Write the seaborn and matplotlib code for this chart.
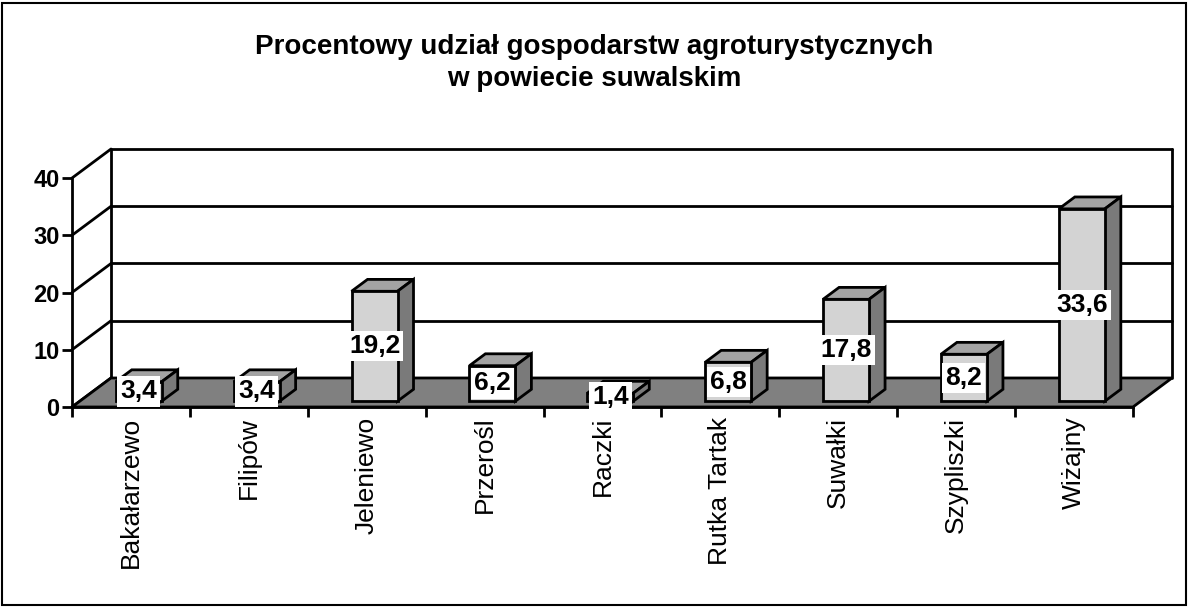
import matplotlib

matplotlib.use("Agg")
import matplotlib.pyplot as plt
from matplotlib.patches import Polygon, Rectangle
import seaborn as sns

CATEGORIES = ["Bakałarzewo", "Filipów", "Jeleniewo", "Przerośl", "Raczki",
              "Rutka Tartak", "Suwałki", "Szypliszki", "Wiżajny"]
VALUES = [3.4, 3.4, 19.2, 6.2, 1.4, 6.8, 17.8, 8.2, 33.6]
LABELS = ["3,4", "3,4", "19,2", "6,2", "1,4", "6,8", "17,8", "8,2", "33,6"]
TITLE = "Procentowy udział gospodarstw agroturystycznych\nw powiecie suwalskim"
Y_TICKS = [0, 10, 20, 30, 40]

# pseudo-3D depth (in data units): x in categories, y in percent
DX, DY = 0.331, 5.07
F0, FD = 0.2, 0.41          # bar front position and bar depth (fraction of floor depth)
BAR_W = 0.39

sns.set_style("white")
plt.rcParams["font.family"] = ["Liberation Sans", "DejaVu Sans"]
plt.rcParams.update({"text.color": "black", "xtick.color": "black",
                     "ytick.color": "black", "axes.edgecolor": "black"})

fig = plt.figure(figsize=(11.89, 6.07), dpi=100)
ax = fig.add_axes([72 / 1189, 200 / 607, 1100 / 1189, 258 / 607])

n = len(CATEGORIES)
x0, x1 = -0.5, n - 0.5
ymax = Y_TICKS[-1]

# floor
ax.add_patch(Polygon([(x0, 0), (x0 + DX, DY), (x1 + DX, DY), (x1, 0)],
                     closed=True, facecolor="#808080", edgecolor="black",
                     lw=2, zorder=1, clip_on=False))
# back wall gridlines and side wall diagonals
for t in Y_TICKS:
    if t > 0:
        ax.plot([x0 + DX, x1 + DX], [t + DY, t + DY], color="black", lw=2,
                zorder=0.5, clip_on=False)
    ax.plot([x0, x0 + DX], [t, t + DY], color="black", lw=2, zorder=0.5,
            clip_on=False)
for xv in (x0 + DX, x1 + DX):
    ax.plot([xv, xv], [DY, ymax + DY], color="black", lw=2, zorder=0.5,
            clip_on=False)

# front faces through seaborn
sns.barplot(x=CATEGORIES, y=VALUES, ax=ax, width=BAR_W, color="#d3d3d3",
            saturation=1, edgecolor="black", linewidth=2, zorder=3)

bars = [p for p in ax.patches if p.get_zorder() == 3]
for i, p in enumerate(bars):
    p.set_x(p.get_x() + F0 * DX)
    p.set_y(p.get_y() + F0 * DY)
    bx, by, bw, bh = p.get_x(), p.get_y(), p.get_width(), p.get_height()
    ddx, ddy = FD * DX, FD * DY
    top = Polygon([(bx, by + bh), (bx + ddx, by + bh + ddy),
                   (bx + bw + ddx, by + bh + ddy), (bx + bw, by + bh)],
                  closed=True, facecolor="#a3a3a3", edgecolor="black", lw=2,
                  zorder=2.9, clip_on=False)
    side = Polygon([(bx + bw, by), (bx + bw + ddx, by + ddy),
                    (bx + bw + ddx, by + bh + ddy), (bx + bw, by + bh)],
                   closed=True, facecolor="#7a7a7a", edgecolor="black", lw=2,
                   zorder=2.9, clip_on=False)
    ax.add_patch(top)
    ax.add_patch(side)
    ax.text(bx + bw / 2, by + bh / 2, LABELS[i], ha="center", va="center",
            fontsize=19, fontweight="bold", zorder=5,
            bbox=dict(boxstyle="square,pad=0.12", facecolor="white",
                      edgecolor="none"))

ax.set_xlim(x0, x1 + DX)
ax.set_ylim(0, ymax + DY)
ax.set_yticks(Y_TICKS)
ax.set_yticklabels([str(t) for t in Y_TICKS], fontsize=17, fontweight="bold")
ax.set_xticks([x0 + k for k in range(n + 1)])
ax.set_xticklabels([])
ax.set_xticks(range(n), minor=True)
ax.set_xticklabels(CATEGORIES, minor=True, rotation=90, fontsize=19, va="top")
ax.tick_params(axis="x", which="minor", length=0, pad=7)
ax.tick_params(axis="x", which="major", direction="out", length=7, width=2,
               bottom=True)
ax.tick_params(axis="y", direction="out", length=7, width=2, left=True, pad=2)
for s in ("top", "right"):
    ax.spines[s].set_visible(False)
ax.spines["left"].set_bounds(0, ymax)
ax.spines["bottom"].set_bounds(x0, x1)
for s in ("left", "bottom"):
    ax.spines[s].set_linewidth(2)
    ax.spines[s].set_zorder(2)
ax.set_xlabel("")
ax.set_ylabel("")
ax.patch.set_alpha(0)

fig.text(0.5, 1 - 63 / 607, TITLE, ha="center", va="center", fontsize=20,
         fontweight="bold", linespacing=1.3)
fig.add_artist(Rectangle((2 / 1189, 2 / 607), 1184 / 1189, 602 / 607,
                         transform=fig.transFigure, fill=False,
                         edgecolor="black", lw=1.5))

fig.savefig("out.png", dpi=100)
